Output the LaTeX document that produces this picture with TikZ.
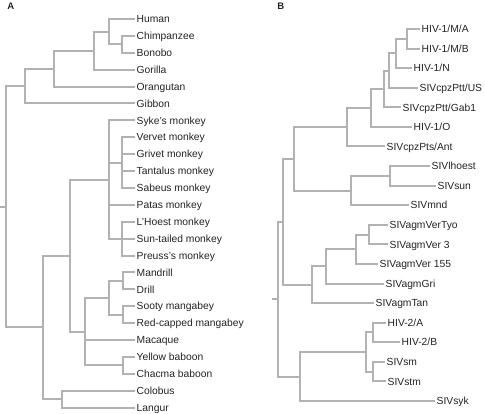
\documentclass[tikz,border=0pt]{standalone}
\usepackage{fontspec}
\setmainfont{Liberation Sans}
\definecolor{brc}{RGB}{178,178,178}
\definecolor{txc}{RGB}{35,35,35}
\tikzset{
  edge/.style={draw=brc, line width=2pt},
  leaf/.style={anchor=west, inner xsep=1.5pt, inner ysep=0pt, text height=7.4pt, text depth=0pt, text=txc, font=\fontsize{10.3}{12}\selectfont},
  panel/.style={font=\bfseries\fontsize{9.5}{11}\selectfont, text=txc, inner sep=0pt},
}
\begin{document}
\begin{tikzpicture}[x=1pt,y=-1pt]
\useasboundingbox (0,0) rectangle (485,414);
\node[panel] (labA) at (10.7,6.5) {A};
\node[panel] (labB) at (280.7,6.5) {B};
% ---------- Tree A leaves
\node[leaf] (aHum) at (135,19) {Human};
\node[leaf] (aChi) at (135,35.9) {Chimpanzee};
\node[leaf] (aBon) at (135,52.8) {Bonobo};
\node[leaf] (aGor) at (135,69.7) {Gorilla};
\node[leaf] (aOra) at (135,86.6) {Orangutan};
\node[leaf] (aGib) at (135,103.5) {Gibbon};
\node[leaf] (aSyk) at (135,120.4) {Syke's monkey};
\node[leaf] (aVer) at (135,137.3) {Vervet monkey};
\node[leaf] (aGri) at (135,154.2) {Grivet monkey};
\node[leaf] (aTan) at (135,171.1) {Tantalus monkey};
\node[leaf] (aSab) at (135,188) {Sabeus monkey};
\node[leaf] (aPat) at (135,204.9) {Patas monkey};
\node[leaf] (aLho) at (135,221.8) {L'Hoest monkey};
\node[leaf] (aSun) at (135,238.7) {Sun-tailed monkey};
\node[leaf] (aPre) at (135,255.6) {Preuss's monkey};
\node[leaf] (aMan) at (135,272.5) {Mandrill};
\node[leaf] (aDri) at (135,289.4) {Drill};
\node[leaf] (aSoo) at (135,306.3) {Sooty mangabey};
\node[leaf] (aRed) at (135,323.2) {Red-capped mangabey};
\node[leaf] (aMac) at (135,340.1) {Macaque};
\node[leaf] (aYel) at (135,357) {Yellow baboon};
\node[leaf] (aCha) at (135,373.9) {Chacma baboon};
\node[leaf] (aCol) at (135,390.8) {Colobus};
\node[leaf] (aLan) at (135,407.7) {Langur};
% ---------- Tree A internal nodes
\coordinate (cb) at (122,44.35);
\coordinate (hcb) at (109,31.675);
\coordinate (hg) at (94,50.69);
\coordinate (ho) at (54,68.64);
\coordinate (hom) at (25,86.07);
\coordinate (verg) at (122,162.65);
\coordinate (lhog) at (122,238.7);
\coordinate (cer) at (109,179.55);
\coordinate (md) at (123,280.95);
\coordinate (sr) at (123,314.75);
\coordinate (mdsr) at (109,297.85);
\coordinate (yc) at (123,365.45);
\coordinate (pap) at (85,331.65);
\coordinate (ccn) at (70,255.6);
\coordinate (colg) at (62,399.25);
\coordinate (owm) at (43,327.4);
\coordinate (ra) at (6,206.7);
\coordinate (a0) at (0,206.7);
% ---------- Tree A edges
\draw[edge] (a0) -- (ra);
\draw[edge] (ra) |- (hom);
\draw[edge] (ra) |- (owm);
\draw[edge] (hom) |- (ho);
\draw[edge] (hom) |- (aGib.west);
\draw[edge] (ho) |- (hg);
\draw[edge] (ho) |- (aOra.west);
\draw[edge] (hg) |- (hcb);
\draw[edge] (hg) |- (aGor.west);
\draw[edge] (hcb) |- (aHum.west);
\draw[edge] (hcb) |- (cb);
\draw[edge] (cb) |- (aChi.west);
\draw[edge] (cb) |- (aBon.west);
\draw[edge] (owm) |- (ccn);
\draw[edge] (owm) |- (colg);
\draw[edge] (colg) |- (aCol.west);
\draw[edge] (colg) |- (aLan.west);
\draw[edge] (ccn) |- (cer);
\draw[edge] (ccn) |- (pap);
\draw[edge] (cer) |- (aSyk.west);
\draw[edge] (cer) |- (verg);
\draw[edge] (cer) |- (aPat.west);
\draw[edge] (cer) |- (lhog);
\draw[edge] (verg) |- (aVer.west);
\draw[edge] (verg) |- (aGri.west);
\draw[edge] (verg) |- (aTan.west);
\draw[edge] (verg) |- (aSab.west);
\draw[edge] (lhog) |- (aLho.west);
\draw[edge] (lhog) |- (aSun.west);
\draw[edge] (lhog) |- (aPre.west);
\draw[edge] (pap) |- (mdsr);
\draw[edge] (pap) |- (aMac.west);
\draw[edge] (pap) |- (yc);
\draw[edge] (mdsr) |- (md);
\draw[edge] (mdsr) |- (sr);
\draw[edge] (md) |- (aMan.west);
\draw[edge] (md) |- (aDri.west);
\draw[edge] (sr) |- (aSoo.west);
\draw[edge] (sr) |- (aRed.west);
\draw[edge] (yc) |- (aYel.west);
\draw[edge] (yc) |- (aCha.west);
% ---------- Tree B leaves
\node[leaf] (bMA) at (420,29) {HIV-1/M/A};
\node[leaf] (bMB) at (420,48.58) {HIV-1/M/B};
\node[leaf] (bN) at (412,68.16) {HIV-1/N};
\node[leaf] (bUS) at (418,87.74) {SIVcpzPtt/US};
\node[leaf] (bGab) at (401,107.32) {SIVcpzPtt/Gab1};
\node[leaf] (bO) at (412,126.9) {HIV-1/O};
\node[leaf] (bAnt) at (385,146.48) {SIVcpzPts/Ant};
\node[leaf] (bLh) at (430,166.06) {SIVlhoest};
\node[leaf] (bSun) at (436,185.64) {SIVsun};
\node[leaf] (bMnd) at (409,205.22) {SIVmnd};
\node[leaf] (bTyo) at (388,224.8) {SIVagmVerTyo};
\node[leaf] (bV3) at (388,244.38) {SIVagmVer 3};
\node[leaf] (bV155) at (378,263.96) {SIVagmVer 155};
\node[leaf] (bGri) at (384,283.54) {SIVagmGri};
\node[leaf] (bTan) at (374,303.12) {SIVagmTan};
\node[leaf] (bH2A) at (386,322.7) {HIV-2/A};
\node[leaf] (bH2B) at (400,342.28) {HIV-2/B};
\node[leaf] (bSm) at (385,361.86) {SIVsm};
\node[leaf] (bStm) at (386,381.44) {SIVstm};
\node[leaf] (bSyk) at (435,401.02) {SIVsyk};
% ---------- Tree B internal nodes
\coordinate (nmab) at (407,38.79);
\coordinate (nn) at (396,53.475);
\coordinate (nus) at (389,70.61);
\coordinate (ngab) at (384,88.96);
\coordinate (no) at (371,107.93);
\coordinate (nant) at (347,127.2);
\coordinate (nls) at (390,175.85);
\coordinate (nmnd) at (351,190.54);
\coordinate (ncpz) at (294,158.87);
\coordinate (ntyo) at (369,234.59);
\coordinate (n155) at (356,249.28);
\coordinate (ngri) at (326,266.41);
\coordinate (ntan) at (312,284.77);
\coordinate (nup) at (283,221.82);
\coordinate (nab) at (373,332.49);
\coordinate (nsms) at (373,371.65);
\coordinate (nh2) at (366,352.07);
\coordinate (nsyk) at (300,376.55);
\coordinate (rb) at (278,299.18);
\coordinate (b0) at (272,299.18);
% ---------- Tree B edges
\draw[edge] (b0) -- (rb);
\draw[edge] (rb) |- (nup);
\draw[edge] (rb) |- (nsyk);
\draw[edge] (nup) |- (ncpz);
\draw[edge] (nup) |- (ntan);
\draw[edge] (ncpz) |- (nant);
\draw[edge] (ncpz) |- (nmnd);
\draw[edge] (nant) |- (no);
\draw[edge] (nant) |- (bAnt.west);
\draw[edge] (no) |- (ngab);
\draw[edge] (no) |- (bO.west);
\draw[edge] (ngab) |- (nus);
\draw[edge] (ngab) |- (bGab.west);
\draw[edge] (nus) |- (nn);
\draw[edge] (nus) |- (bUS.west);
\draw[edge] (nn) |- (nmab);
\draw[edge] (nn) |- (bN.west);
\draw[edge] (nmab) |- (bMA.west);
\draw[edge] (nmab) |- (bMB.west);
\draw[edge] (nmnd) |- (nls);
\draw[edge] (nmnd) |- (bMnd.west);
\draw[edge] (nls) |- (bLh.west);
\draw[edge] (nls) |- (bSun.west);
\draw[edge] (ntan) |- (ngri);
\draw[edge] (ntan) |- (bTan.west);
\draw[edge] (ngri) |- (n155);
\draw[edge] (ngri) |- (bGri.west);
\draw[edge] (n155) |- (ntyo);
\draw[edge] (n155) |- (bV155.west);
\draw[edge] (ntyo) |- (bTyo.west);
\draw[edge] (ntyo) |- (bV3.west);
\draw[edge] (nsyk) |- (nh2);
\draw[edge] (nsyk) |- (bSyk.west);
\draw[edge] (nh2) |- (nab);
\draw[edge] (nh2) |- (nsms);
\draw[edge] (nab) |- (bH2A.west);
\draw[edge] (nab) |- (bH2B.west);
\draw[edge] (nsms) |- (bSm.west);
\draw[edge] (nsms) |- (bStm.west);
\end{tikzpicture}
\end{document}
